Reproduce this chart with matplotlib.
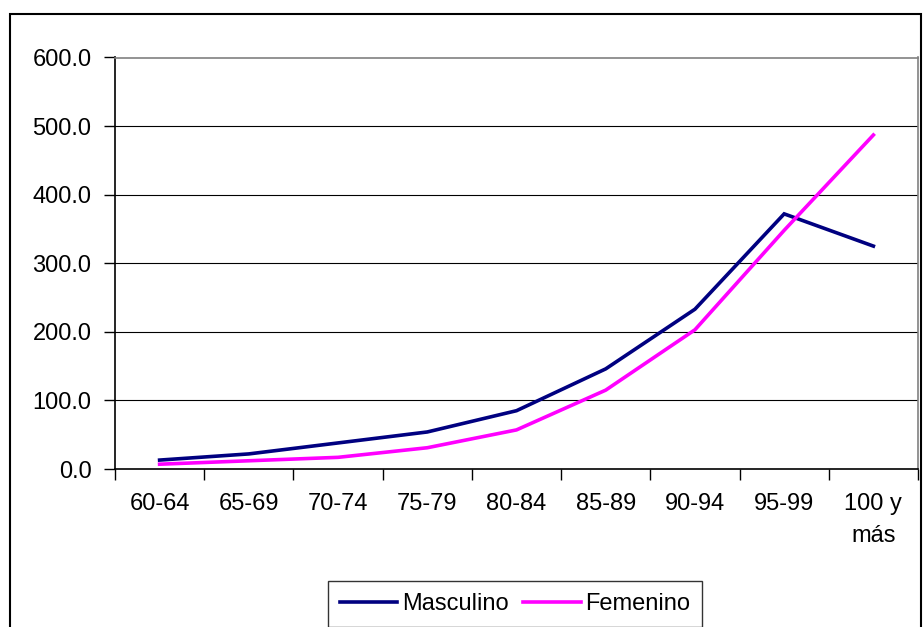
#!/usr/bin/env python3
"""Tasa por grupo de edad, Masculino vs Femenino."""

import matplotlib
matplotlib.use("Agg")
import matplotlib.pyplot as plt
from matplotlib.patches import Rectangle
import numpy as np

plt.rcParams["font.family"] = ["Liberation Sans", "DejaVu Sans"]

categories = ["60-64", "65-69", "70-74", "75-79", "80-84", "85-89", "90-94", "95-99", "100 y\nmás"]
masculino = [13, 22, 38, 54, 85, 146, 233, 372, 325]
femenino = [7, 12, 17, 31, 57, 115, 203, 348, 487]
y_ticks = [0, 100, 200, 300, 400, 500, 600]

W, H = 924, 627
FS = 17
fig = plt.figure(figsize=(W / 100, H / 100), dpi=100)

# outer chart frame
fig.patches.append(Rectangle((10 / W, -0.05), (921 - 10) / W, 1.05 - 14 / H,
                             transform=fig.transFigure, fill=False,
                             edgecolor="black", linewidth=1.5))

ax = fig.add_axes([115 / W, 1 - 469 / H, (918 - 115) / W, (469 - 57.5) / H])
x = np.arange(len(categories))
ax.plot(x, masculino, color="#000080", linewidth=2.6, label="Masculino", solid_joinstyle="miter")
ax.plot(x, femenino, color="#FF00FF", linewidth=2.6, label="Femenino", solid_joinstyle="miter")

ax.set_xlim(-0.5, len(categories) - 0.5)
ax.set_ylim(0, 600)
ax.set_yticks(y_ticks)
ax.set_yticklabels([f"{v:.1f}" for v in y_ticks], fontsize=FS)
for v in y_ticks[1:-1]:
    ax.axhline(v, color="black", linewidth=0.8, zorder=0)

ax.set_xticks(np.arange(-0.5, len(categories), 1.0))
ax.set_xticklabels([])
ax.set_xticks(x, minor=True)
ax.set_xticklabels(categories, minor=True, fontsize=FS, linespacing=1.6)
ax.tick_params(axis="x", which="major", direction="out", length=8, width=1, color="black")
ax.tick_params(axis="x", which="minor", length=0, pad=17)
ax.tick_params(axis="y", direction="out", length=8, width=1, pad=9)

ax.spines["left"].set_color("black")
ax.spines["bottom"].set_color("black")
ax.spines["top"].set_color("#808080")
ax.spines["right"].set_color("#808080")
for s in ax.spines.values():
    s.set_linewidth(1.2)

leg = fig.legend(loc="center", bbox_to_anchor=(515 / W, 1 - 604 / H),
                 ncol=2, fontsize=FS, frameon=True, fancybox=False,
                 handlelength=2.45, handletextpad=0.2, columnspacing=0.6,
                 borderpad=0.5, borderaxespad=0)
leg.get_frame().set_edgecolor("black")
leg.get_frame().set_linewidth(1.0)

fig.savefig("out.png", dpi=100)
